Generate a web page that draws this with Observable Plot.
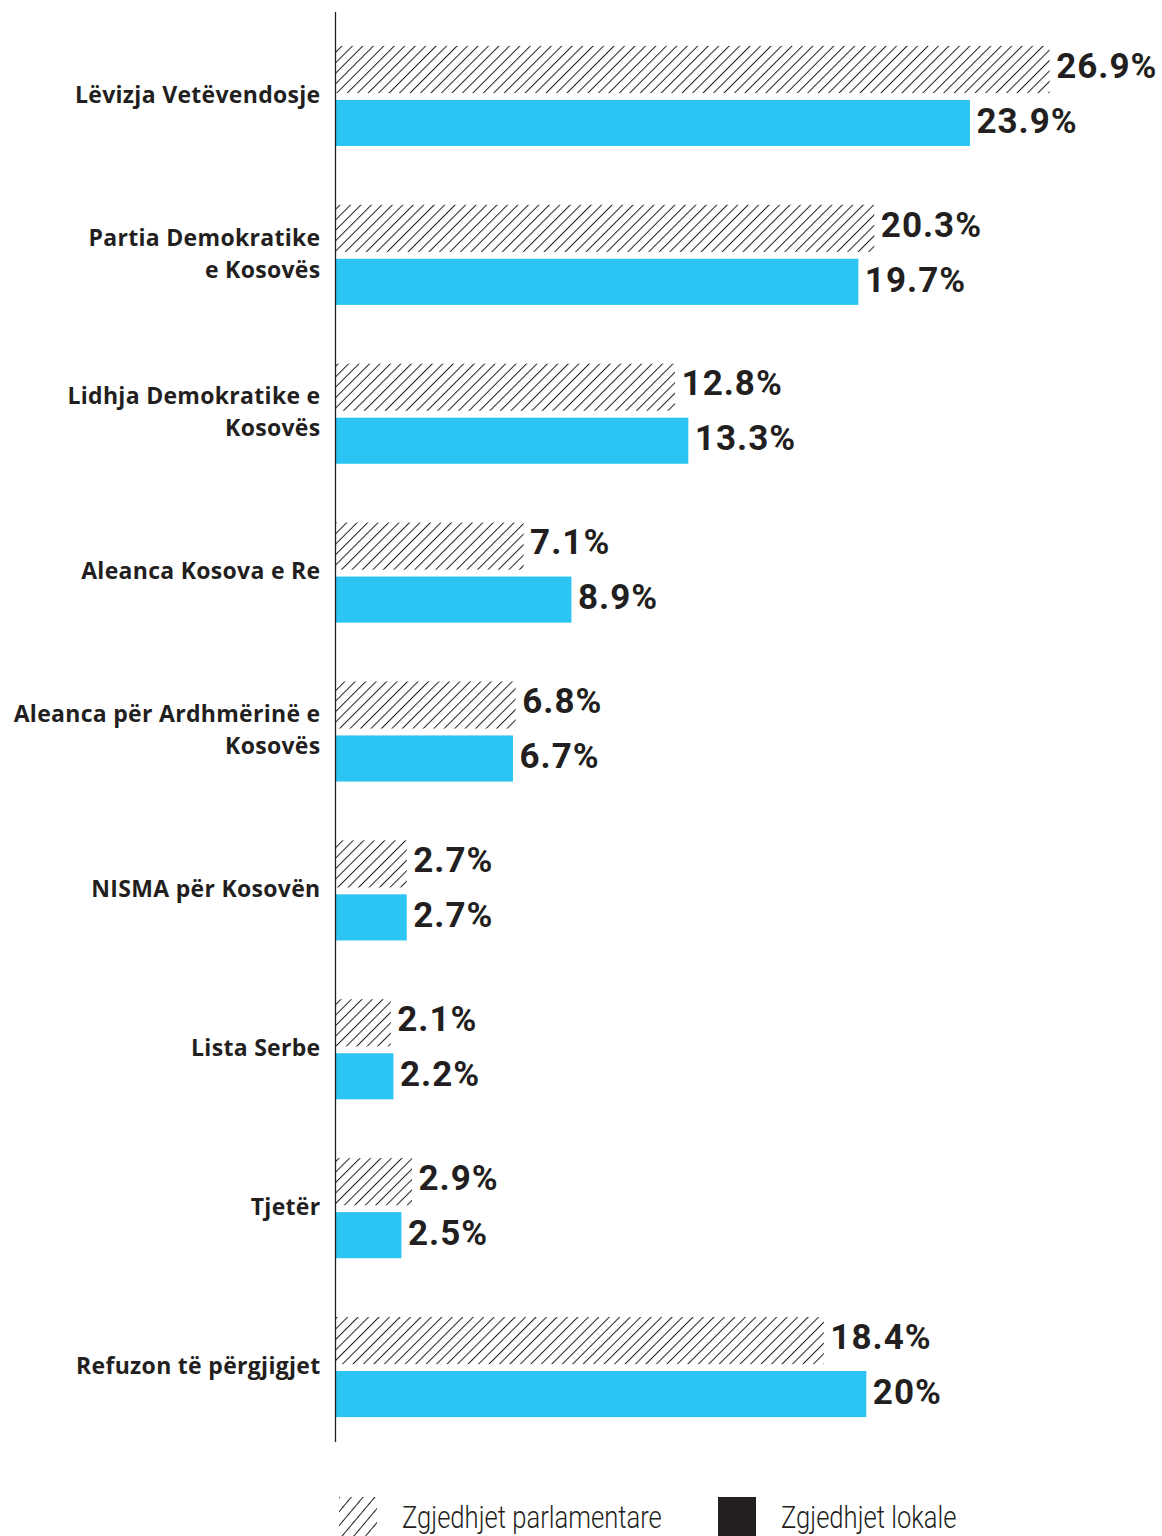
<!DOCTYPE html>
<html>
<head>
<meta charset="utf-8">
<script src="https://cdn.jsdelivr.net/npm/d3@7"></script>
<script src="https://cdn.jsdelivr.net/npm/@observablehq/plot@0.6"></script>
<style>
  body { margin: 0; background: #fff; }
  #chart svg { display: block; }
  .hatch rect { fill: url(#hatch); }
  .vals text { letter-spacing: 1px; }
  .cats text { letter-spacing: 0.3px; }
  .legend { position: relative; height: 76px; font-family: Roboto, sans-serif; font-weight: 300; color: #231f20; }
  .legend .item { position: absolute; top: 37px; display: flex; align-items: center; font-size: 32px; }
  .legend .item svg { display: block; margin-right: 25px; flex: none; }
  .legend .item span { display: inline-block; transform: scaleX(0.8); transform-origin: left center; white-space: nowrap; }
</style>
</head>
<body>
<div id="chart"></div>
<div class="legend" id="legend"></div>
<script>
const parties = [
  "Lëvizja Vetëvendosje",
  "Partia Demokratike e Kosovës",
  "Lidhja Demokratike e Kosovës",
  "Aleanca Kosova e Re",
  "Aleanca për Ardhmërinë e Kosovës",
  "NISMA për Kosovën",
  "Lista Serbe",
  "Tjetër",
  "Refuzon të përgjigjet"
];
const partyLabels = [
  "Lëvizja Vetëvendosje",
  "Partia Demokratike\ne Kosovës",
  "Lidhja Demokratike e\nKosovës",
  "Aleanca Kosova e Re",
  "Aleanca për Ardhmërinë e\nKosovës",
  "NISMA për Kosovën",
  "Lista Serbe",
  "Tjetër",
  "Refuzon të përgjigjet"
];
const parlamentare = [26.9, 20.3, 12.8, 7.1, 6.8, 2.7, 2.1, 2.9, 18.4];
const lokale = [23.9, 19.7, 13.3, 8.9, 6.7, 2.7, 2.2, 2.5, 20];
const seriesNames = ["Zgjedhjet parlamentare", "Zgjedhjet lokale"];

const parlData = parties.map((p, i) => ({party: p, label: partyLabels[i], value: parlamentare[i]}));
const lokData = parties.map((p, i) => ({party: p, value: lokale[i]}));

const ink = "#231f20";
const blue = "#2cc4f2";
const fmt = v => `${v}%`;

const plot = Plot.plot({
  width: 1162,
  height: 1460,
  marginTop: 12,
  marginBottom: 18,
  marginLeft: 335,
  marginRight: 30,
  x: {domain: [0, 30], axis: null},
  y: {domain: parties, range: [16.5, 1446.5], paddingInner: 0.37, paddingOuter: 0.185, round: false, axis: null},
  style: {fontFamily: "Roboto, sans-serif", color: ink, background: "#fff"},
  marks: [
    Plot.barX(parlData, {x: "value", y: "party", insetBottom: 53, fill: "#fff", className: "hatch"}),
    Plot.barX(lokData, {x: "value", y: "party", insetTop: 54, fill: blue}),
    Plot.ruleX([0], {stroke: ink, strokeWidth: 1.3}),
    Plot.text(parlData, {x: "value", y: "party", text: d => fmt(d.value), dx: 6, dy: -30, textAnchor: "start", fontSize: 35, fontWeight: 700, fill: ink, className: "vals"}),
    Plot.text(lokData, {x: "value", y: "party", text: d => fmt(d.value), dx: 6, dy: 25, textAnchor: "start", fontSize: 35, fontWeight: 700, fill: ink, className: "vals"}),
    Plot.text(parlData, {y: "party", text: "label", frameAnchor: "left", dx: -15, dy: -4, textAnchor: "end", fontSize: 23, fontWeight: 700, lineHeight: 1.39, fill: ink, fontFamily: "'Open Sans', sans-serif", className: "cats"})
  ]
});

// hatch pattern definition
const ns = "http://www.w3.org/2000/svg";
function addPattern(svg, id) {
  const defs = document.createElementNS(ns, "defs");
  defs.innerHTML = `<pattern id="${id}" patternUnits="userSpaceOnUse" width="7.4" height="7.4" patternTransform="rotate(45)">
    <rect width="7.4" height="7.4" fill="#fff"></rect>
    <line x1="0" y1="0" x2="0" y2="7.4" stroke="${ink}" stroke-width="2"></line>
  </pattern>`;
  svg.insertBefore(defs, svg.firstChild);
}
addPattern(plot, "hatch");
document.getElementById("chart").appendChild(plot);

// legend
const legend = document.getElementById("legend");
const items = [
  {name: seriesNames[0], left: 339, hatch: true},
  {name: seriesNames[1], left: 718, hatch: false}
];
items.forEach(it => {
  const div = document.createElement("div");
  div.className = "item";
  div.style.left = it.left + "px";
  const sw = document.createElementNS(ns, "svg");
  sw.setAttribute("width", 38);
  sw.setAttribute("height", 39);
  if (it.hatch) {
    sw.innerHTML = `<defs><pattern id="hatchL" patternUnits="userSpaceOnUse" width="9" height="9" patternTransform="rotate(40)">
      <rect width="9" height="9" fill="#fff"></rect>
      <line x1="0" y1="0" x2="0" y2="9" stroke="${ink}" stroke-width="2"></line></pattern></defs>
      <rect width="38" height="39" fill="url(#hatchL)"></rect>`;
  } else {
    sw.innerHTML = `<rect width="38" height="39" fill="${ink}"></rect>`;
  }
  div.appendChild(sw);
  const span = document.createElement("span");
  span.textContent = it.name;
  div.appendChild(span);
  legend.appendChild(div);
});
</script>
</body>
</html>
